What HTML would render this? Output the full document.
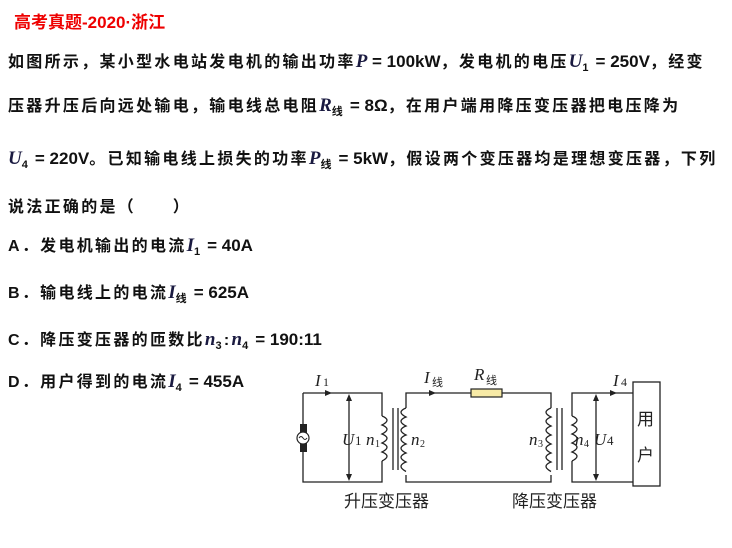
<!DOCTYPE html>
<html><head><meta charset="utf-8"><style>
body{margin:0;width:732px;height:548px;background:#fff;position:relative;overflow:hidden;font-family:"Liberation Sans","Noto Sans CJK SC",sans-serif;}
.l{position:absolute;left:8px;font-size:16px;font-weight:bold;color:#111;white-space:nowrap;letter-spacing:2.3px;line-height:20px;}
i{font-family:"Liberation Serif",serif;font-style:italic;font-size:19px;color:#1a1a40;letter-spacing:0}
.m{font-family:"Liberation Sans",sans-serif;font-size:17px;letter-spacing:0}
sub{font-size:11px}
</style></head><body>
<div style="position:absolute;left:14px;top:8px;font-size:17px;color:#e00;font-weight:bold;">高考真题-2020·浙江</div>
<div class="l" style="top:52px">如图所示，某小型水电站发电机的输出功率<i>P</i><span class="m"> = 100kW</span>，发电机的电压<i>U</i><sub>1</sub><span class="m"> = 250V</span>，经变</div>
<div class="l" style="top:96px">压器升压后向远处输电，输电线总电阻<i>R</i><sub>线</sub><span class="m"> = 8Ω</span>，在用户端用降压变压器把电压降为</div>
<div class="l" style="top:149px"><i>U</i><sub>4</sub><span class="m"> = 220V</span>。已知输电线上损失的功率<i>P</i><sub>线</sub><span class="m"> = 5kW</span>，假设两个变压器均是理想变压器，下列</div>
<div class="l" style="top:198px">说法正确的是（　　）</div>
<div class="l" style="top:236px">A．发电机输出的电流<i>I</i><sub>1</sub><span class="m"> = 40A</span></div>
<div class="l" style="top:283px">B．输电线上的电流<i>I</i><sub>线</sub><span class="m"> = 625A</span></div>
<div class="l" style="top:330px">C．降压变压器的匝数比<i>n</i><sub>3</sub>:<i>n</i><sub>4</sub><span class="m"> = 190:11</span></div>
<div class="l" style="top:372px">D．用户得到的电流<i>I</i><sub>4</sub><span class="m"> = 455A</span></div>
<svg width="732" height="548" style="position:absolute;left:0;top:0" font-family="Liberation Serif,serif">
<g stroke="#222" stroke-width="1.3" fill="none">
<path d="M303 393H382V416M382 461V482H303V393"/>
<path d="M406 408V393H471M502 393H551V408M551 475V482H406V475"/>
<path d="M572 416V393H633M633 482H572V461"/>
<path d="M382 416 q10 4 0 9 q10 4 0 9 q10 4 0 9 q10 4 0 9 q10 4 0 9"/>
<path d="M406 408 q-10 4 0 9 q-10 4 0 9 q-10 4 0 9 q-10 4 0 9 q-10 4 0 9 q-10 4 0 9 q-10 4 0 9.5"/>
<path d="M551 408 q-10 4 0 9 q-10 4 0 9 q-10 4 0 9 q-10 4 0 9 q-10 4 0 9 q-10 4 0 9 q-10 4 0 9.5"/>
<path d="M572 416 q10 4 0 9 q10 4 0 9 q10 4 0 9 q10 4 0 9 q10 4 0 9"/>
<path d="M393 408V470M398 408V470M557 408V470M562 408V470"/>
<path d="M349 398V476M596 398V476"/>
</g>
<rect x="471" y="389" width="31" height="8" fill="#f7eaa6" stroke="#222" stroke-width="1.2"/>
<rect x="633" y="382" width="27" height="104" fill="#fff" stroke="#222" stroke-width="1.3"/>
<rect x="300" y="424" width="7" height="28" fill="#222"/>
<circle cx="303" cy="438" r="6" fill="#fff" stroke="#222" stroke-width="1.2"/>
<path d="M299 438q2-3 4 0t4 0" stroke="#222" fill="none" stroke-width="1"/>
<g fill="#222">
<path d="M332 393l-7-3v6z"/><path d="M436 393l-7-3v6z"/><path d="M617 393l-7-3v6z"/>
<path d="M349 394l-3 7h6z"/><path d="M349 481l-3-7h6z"/>
<path d="M596 394l-3 7h6z"/><path d="M596 481l-3-7h6z"/>
</g>
<g font-size="17" fill="#222">
<text x="315" y="386" font-style="italic">I</text><text x="323" y="386" font-size="12">1</text>
<text x="424" y="383" font-style="italic">I</text><text x="432" y="386" font-size="11" font-family="Noto Sans CJK SC">线</text>
<text x="474" y="380" font-style="italic">R</text><text x="486" y="384" font-size="11" font-family="Noto Sans CJK SC">线</text>
<text x="613" y="386" font-style="italic">I</text><text x="621" y="386" font-size="12">4</text>
<text x="342" y="445" font-style="italic">U</text><text x="355" y="445" font-size="13">1</text>
<text x="366" y="445" font-style="italic">n</text><text x="375" y="447" font-size="10">1</text>
<text x="411" y="445" font-style="italic">n</text><text x="420" y="447" font-size="10">2</text>
<text x="529" y="445" font-style="italic">n</text><text x="538" y="447" font-size="10">3</text>
<text x="575" y="445" font-style="italic">n</text><text x="584" y="447" font-size="10">4</text>
<text x="594" y="445" font-style="italic">U</text><text x="607" y="445" font-size="13">4</text>
</g>
<g font-family="Noto Sans CJK SC,sans-serif" font-size="17" fill="#222">
<text x="637" y="425">用</text><text x="637" y="461">户</text>
<text x="344" y="507">升压变压器</text><text x="512" y="507">降压变压器</text>
</g>
</svg>
</body></html>
